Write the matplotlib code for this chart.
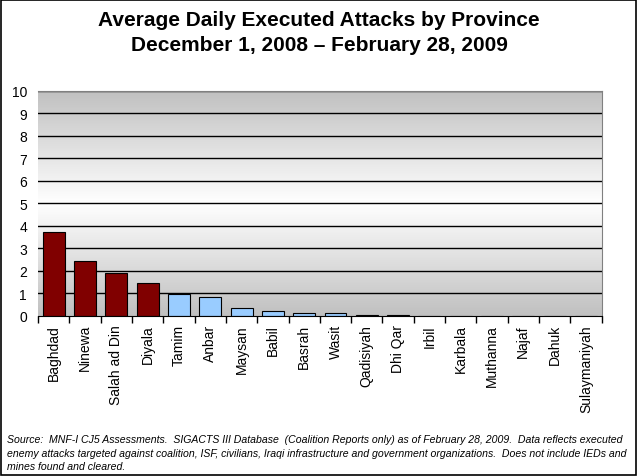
import numpy as np
import matplotlib.pyplot as plt
from matplotlib.colors import LinearSegmentedColormap

provinces = ["Baghdad", "Ninewa", "Salah ad Din", "Diyala", "Tamim", "Anbar",
             "Maysan", "Babil", "Basrah", "Wasit", "Qadisiyah", "Dhi Qar",
             "Irbil", "Karbala", "Muthanna", "Najaf", "Dahuk", "Sulaymaniyah"]
attacks = [3.71, 2.42, 1.88, 1.44, 0.97, 0.82, 0.33, 0.19, 0.10, 0.10,
           0.04, 0.04, 0, 0, 0, 0, 0, 0]
high = ["Baghdad", "Ninewa", "Salah ad Din", "Diyala"]

plt.rcParams['font.family'] = ['Liberation Sans', 'DejaVu Sans']

fig = plt.figure(figsize=(6.38, 4.77), dpi=100)
ax = fig.add_axes([0.0596, 0.336, 0.8834, 0.472])

n = len(provinces)
x = np.arange(n)
ax.set_xlim(-0.5, n - 0.5)
ax.set_ylim(0, 10)

# gray -> white -> gray background
cmap = LinearSegmentedColormap.from_list("bg", ["#c0c0c0", "#ffffff", "#c0c0c0"])
grad = np.linspace(0, 1, 256).reshape(-1, 1)
ax.imshow(grad, cmap=cmap, aspect="auto", extent=(-0.5, n - 0.5, 0, 10),
          origin="lower", zorder=0)

for yv in range(1, 11):
    ax.axhline(yv, color="black", lw=1, zorder=1)

colors = ["#800000" if p in high else "#99ccff" for p in provinces]
ax.bar(x, attacks, width=0.7, color=colors, edgecolor="black", lw=0.8, zorder=2)

ax.set_yticks(range(0, 11))
ax.set_yticklabels([str(v) for v in range(0, 11)], fontsize=10)
ax.tick_params(axis="y", length=0, pad=8)

ax.set_xticks(x)
ax.set_xticklabels(provinces, rotation=90, fontsize=10, va="top")
ax.set_xticks(np.arange(-0.5, n, 1), minor=True)
ax.tick_params(axis="x", which="major", length=0, pad=6)
ax.tick_params(axis="x", which="minor", length=5, direction="out", width=1)

for side in ["top", "right"]:
    ax.spines[side].set_color("#808080")
ax.spines["left"].set_visible(False)
ax.spines["bottom"].set_color("black")

fig.text(0.5, 0.958, "Average Daily Executed Attacks by Province",
         ha="center", va="center", fontsize=15, fontweight="bold")
fig.text(0.5, 0.905, "December 1, 2008 \u2013 February 28, 2009",
         ha="center", va="center", fontsize=15, fontweight="bold")

fig.text(0.011, 0.049,
         "Source:  MNF-I CJ5 Assessments.  SIGACTS III Database  (Coalition Reports only) as of February 28, 2009.  Data reflects executed\n"
         "enemy attacks targeted against coalition, ISF, civilians, Iraqi infrastructure and government organizations.  Does not include IEDs and\n"
         "mines found and cleared.",
         ha="left", va="center", fontsize=7.6, style="italic", linespacing=1.42)

fig.patches.append(plt.Rectangle((0.001, 0.002), 0.996, 0.996, transform=fig.transFigure,
                                 fill=False, edgecolor="black", lw=1.2))

fig.savefig("out.png", dpi=100)
